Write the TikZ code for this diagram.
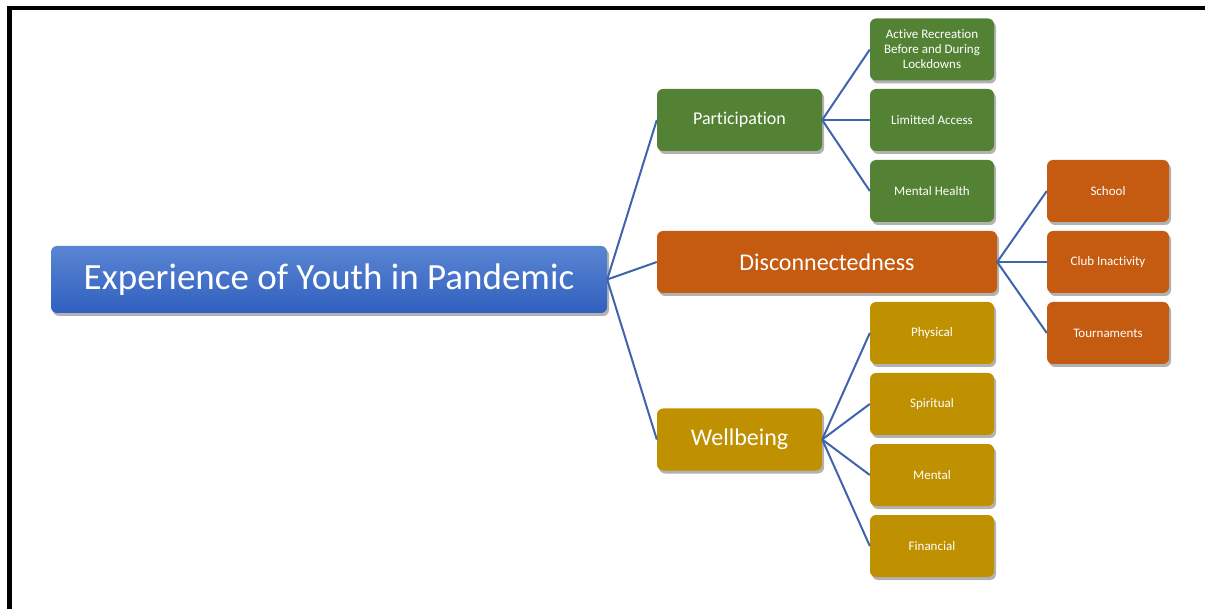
\documentclass[tikz,border=0pt]{standalone}
\usepackage{fontspec}
\setmainfont{Carlito}[Ligatures=NoCommon]
\usetikzlibrary{shadows}
\definecolor{roottop}{HTML}{5A85D2}
\definecolor{rootbottom}{HTML}{3060BF}
\definecolor{leafgreen}{HTML}{548235}
\definecolor{leaforange}{HTML}{C55A11}
\definecolor{leafgold}{HTML}{BF9000}
\definecolor{linkblue}{HTML}{3F64AE}
\tikzset{
    base-box/.style = {rectangle, rounded corners=6pt, text=white, align=center, inner sep=0pt,
        drop shadow={shadow xshift=2pt, shadow yshift=-3pt, opacity=0.3, fill=black}},
    root-box/.style = {base-box, top color=roottop, bottom color=rootbottom,
        minimum width=556pt, minimum height=67pt, font=\fontsize{37}{43}\selectfont},
    branch-box/.style = {base-box, minimum width=165pt, minimum height=62pt, font=\fontsize{18}{22}\selectfont},
    leaf-box/.style = {base-box, minimum width=124pt, minimum height=62pt, font=\fontsize{13}{15}\selectfont},
    link/.style = {draw=linkblue, line width=2pt},
}

\begin{document}
\begin{tikzpicture}[x=1pt, y=-1pt]
\useasboundingbox (0,0) rectangle (1205,609);
\draw[line width=4.5pt] (9.5,609) -- (9.5,8) -- (1205,8);

\node[root-box] (root) at (329,279.5) {Experience of Youth in Pandemic};

\node[branch-box, fill=leafgreen] (part) at (739.5,120) {Participation};
\node[branch-box, fill=leaforange, minimum width=340pt, font=\fontsize{24}{28}\selectfont] (disc) at (827,262) {Disconnectedness};
\node[branch-box, fill=leafgold, font=\fontsize{24}{28}\selectfont] (well) at (739.5,439.5) {Wellbeing};

% participation leaves
\node[leaf-box, fill=leafgreen] (part-a) at (932,49.5) {Active Recreation\\Before and During\\Lockdowns};
\node[leaf-box, fill=leafgreen] (part-b) at (932,120) {Limitted Access};
\node[leaf-box, fill=leafgreen] (part-c) at (932,191) {Mental Health};

% disconnectedness leaves
\node[leaf-box, fill=leaforange, minimum width=122pt] (disc-a) at (1108,191) {School};
\node[leaf-box, fill=leaforange, minimum width=122pt] (disc-b) at (1108,262) {Club Inactivity};
\node[leaf-box, fill=leaforange, minimum width=122pt] (disc-c) at (1108,333) {Tournaments};

% wellbeing leaves
\node[leaf-box, fill=leafgold] (well-a) at (932,333) {Physical};
\node[leaf-box, fill=leafgold] (well-b) at (932,404) {Spiritual};
\node[leaf-box, fill=leafgold] (well-c) at (932,475) {Mental};
\node[leaf-box, fill=leafgold] (well-d) at (932,546) {Financial};

\draw[link] (root.east) -- (part.west);
\draw[link] (root.east) -- (disc.west);
\draw[link] (root.east) -- (well.west);

\draw[link] (part.east) -- (part-a.west);
\draw[link] (part.east) -- (part-b.west);
\draw[link] (part.east) -- (part-c.west);

\draw[link] (disc.east) -- (disc-a.west);
\draw[link] (disc.east) -- (disc-b.west);
\draw[link] (disc.east) -- (disc-c.west);

\draw[link] (well.east) -- (well-a.west);
\draw[link] (well.east) -- (well-b.west);
\draw[link] (well.east) -- (well-c.west);
\draw[link] (well.east) -- (well-d.west);
\end{tikzpicture}
\end{document}
